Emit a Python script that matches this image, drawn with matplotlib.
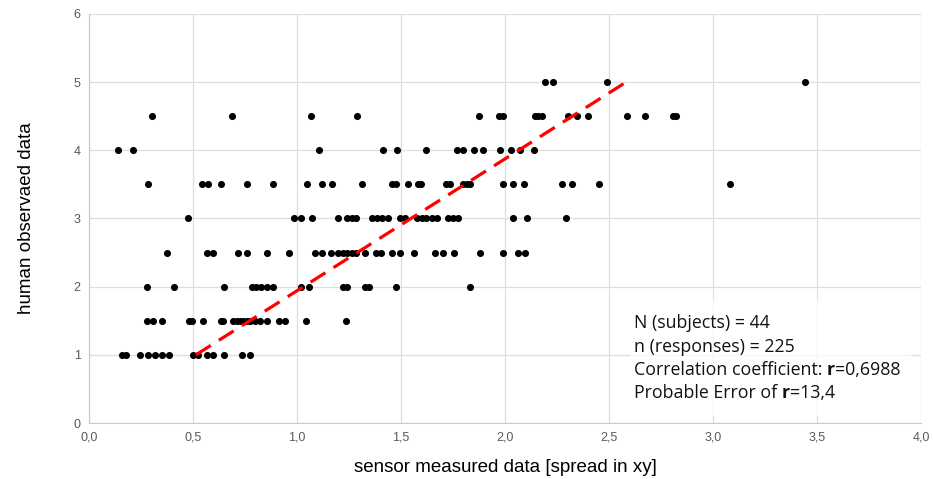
import matplotlib.pyplot as plt
import numpy as np

rows = {
    1.0: [0.157, 0.176, 0.245, 0.285, 0.317, 0.349, 0.385, 0.501, 0.526, 0.566, 0.595, 0.651, 0.737, 0.774],
    1.5: [0.277, 0.309, 0.349, 0.479, 0.495, 0.550, 0.635, 0.646, 0.694, 0.710, 0.726, 0.742, 0.758, 0.774,
          0.798, 0.822, 0.857, 0.915, 0.942, 1.043, 1.234],
    2.0: [0.280, 0.409, 0.651, 0.782, 0.803, 0.825, 0.854, 0.886, 1.018, 1.060, 1.223, 1.242, 1.327, 1.348,
          1.476, 1.832],
    2.5: [0.373, 0.566, 0.598, 0.715, 0.761, 0.854, 0.963, 1.087, 1.119, 1.162, 1.199, 1.220, 1.242, 1.263,
          1.284, 1.327, 1.380, 1.402, 1.455, 1.495, 1.564, 1.663, 1.700, 1.756, 1.880, 1.989, 2.064, 2.096],
    3.0: [0.478, 0.986, 1.018, 1.071, 1.196, 1.242, 1.263, 1.284, 1.359, 1.383, 1.407, 1.439, 1.495, 1.519,
          1.575, 1.599, 1.620, 1.647, 1.671, 1.728, 1.752, 1.776, 2.037, 2.104, 2.293],
    3.5: [0.285, 0.542, 0.574, 0.633, 0.761, 0.886, 1.050, 1.122, 1.167, 1.311, 1.455, 1.476, 1.535, 1.583,
          1.596, 1.716, 1.736, 1.796, 1.816, 1.832, 1.989, 2.040, 2.093, 2.272, 2.321, 2.452, 3.082],
    4.0: [0.138, 0.213, 1.106, 1.412, 1.479, 1.619, 1.768, 1.796, 1.853, 1.893, 1.976, 2.027, 2.072, 2.141],
    4.5: [0.301, 0.686, 1.067, 1.290, 1.877, 1.973, 1.989, 2.144, 2.160, 2.176, 2.301, 2.345, 2.401, 2.585,
          2.673, 2.806, 2.822],
    5.0: [2.192, 2.232, 2.489, 3.442],
}

trend_x = [0.514, 2.582]
trend_y = [1.0, 5.0]

x_ticks = [0.0, 0.5, 1.0, 1.5, 2.0, 2.5, 3.0, 3.5, 4.0]
y_ticks = [0, 1, 2, 3, 4, 5, 6]

xs = np.concatenate([rows[k] for k in rows])
ys = np.concatenate([[k] * len(rows[k]) for k in rows])

fig = plt.figure(figsize=(9.33, 4.79), dpi=100)
ax = fig.add_axes([0.0954, 0.1169, 0.8917, 0.8539])

grid_c = '#dedede'
ax.scatter(xs, ys, s=26, color='black', zorder=3, linewidths=0)
ax.plot(trend_x, trend_y, color='#ff0000', lw=2.3, dashes=(5.5, 3), zorder=4)

ax.set_xlim(0, 4)
ax.set_ylim(0, 6)
ax.set_xticks(x_ticks)
ax.set_xticklabels([f'{v:.1f}'.replace('.', ',') for v in x_ticks])
ax.set_yticks(y_ticks)
ax.set_yticklabels([str(v) for v in y_ticks])
ax.grid(True, color=grid_c, lw=0.9, zorder=0)
ax.set_axisbelow(True)
for s in ['top', 'right']:
    ax.spines[s].set_visible(False)
for s in ['left', 'bottom']:
    ax.spines[s].set_color('#c8c8c8')
ax.tick_params(length=0, pad=6, labelsize=9, labelcolor='#595959')
for lab in ax.get_xticklabels() + ax.get_yticklabels():
    lab.set_family('Liberation Sans')

ax.set_xlabel('sensor measured data [spread in xy]', fontsize=13.5, family='Liberation Sans', labelpad=11)
ax.set_ylabel('human observaed data', fontsize=13.5, family='Liberation Sans', labelpad=28)

# annotation box
ax.add_patch(plt.Rectangle((2.6, 0.1), 1.35, 1.7, facecolor='white', alpha=0.75, edgecolor='none', zorder=1))
fk = dict(fontsize=12.8, family='Open Sans', color='#111111', zorder=5, va='bottom')
x0 = 2.62
base_y = 1.33
step = 0.343
ax.text(x0, base_y, 'N (subjects) = 44', **fk)
ax.text(x0, base_y - step, 'n (responses) = 225', **fk)
t = ax.text(x0, base_y - 2 * step, 'Correlation coefficient: ', **fk)
t = ax.annotate('r', xy=(1, 0), xycoords=t, fontweight='bold', **fk)
ax.annotate('=0,6988', xy=(1, 0), xycoords=t, **fk)
t = ax.text(x0, base_y - 3 * step, 'Probable Error of ', **fk)
t = ax.annotate('r', xy=(1, 0), xycoords=t, fontweight='bold', **fk)
ax.annotate('=13,4', xy=(1, 0), xycoords=t, **fk)

plt.savefig('out.png', dpi=100)
